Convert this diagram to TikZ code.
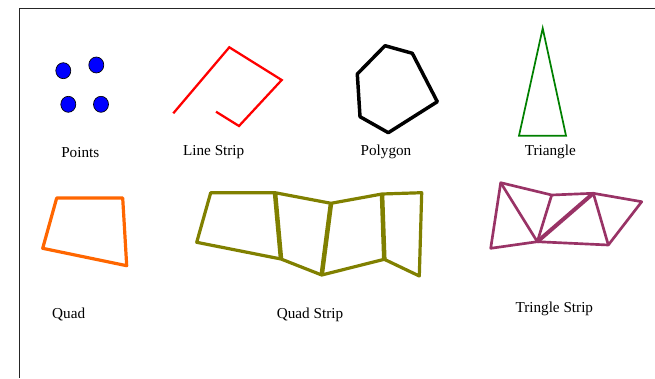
\documentclass[tikz,border=0pt]{standalone}
\usepackage{fontspec}
\setmainfont{Liberation Serif}
\definecolor{ptblue}{RGB}{0,0,255}
\definecolor{lsred}{RGB}{255,0,0}
\definecolor{trigreen}{RGB}{0,128,0}
\definecolor{quadorange}{RGB}{255,102,0}
\definecolor{qsolive}{RGB}{128,128,0}
\definecolor{tspurple}{RGB}{153,51,102}
\begin{document}
\begin{tikzpicture}[x=0.75pt,y=-0.75pt,
  lbl/.style={font=\fontsize{11.4pt}{13pt}\selectfont, inner sep=0pt},
  pt/.style={draw=black, fill=ptblue, line width=0.6pt, ellipse},
  frame/.style={draw=black!85, line width=0.9pt},
  lsline/.style={draw=lsred, line width=1.7pt},
  polyline/.style={draw=black, line width=2.6pt, line join=round},
  triline/.style={draw=trigreen, line width=1.3pt},
  quadline/.style={draw=quadorange, line width=2.4pt, line join=round},
  qsline/.style={draw=qsolive, line width=2.4pt, line join=round},
  qsvert/.style={draw=qsolive, line width=3.4pt},
  tsline/.style={draw=tspurple, line width=2pt, line join=round},
  tsthick/.style={draw=tspurple, line width=3pt}]
\useasboundingbox (0,0) rectangle (655,378);
% frame
\coordinate (f1) at (655,8.5);
\coordinate (f2) at (19.5,8.5);
\coordinate (f3) at (19.5,378);
\draw[frame] (f1) -- (f2) -- (f3);
% Points
\fill[ptblue, draw=black, line width=0.5pt] (63.3,70.7) ellipse [x radius=7.5, y radius=8];
\fill[ptblue, draw=black, line width=0.5pt] (96.3,65) ellipse [x radius=7.5, y radius=8];
\fill[ptblue, draw=black, line width=0.5pt] (68.3,104.3) ellipse [x radius=7.5, y radius=8];
\fill[ptblue, draw=black, line width=0.5pt] (101,104.3) ellipse [x radius=7.5, y radius=8];
\node[lbl] (tpoints) at (80.3,152.3) {Points};
% Line strip
\coordinate (l1) at (173.3,113.3);
\coordinate (l2) at (229.3,47.3);
\coordinate (l3) at (281.7,80);
\coordinate (l4) at (239,126);
\coordinate (l5) at (216,111.7);
\draw[lsline] (l1) -- (l2) -- (l3) -- (l4) -- (l5);
\node[lbl] (tls) at (213.7,152.3) {Line Strip};
% Polygon
\coordinate (p1) at (385,45.7);
\coordinate (p2) at (412.3,53.3);
\coordinate (p3) at (437.3,101.7);
\coordinate (p4) at (388.3,132.7);
\coordinate (p5) at (360,116.7);
\coordinate (p6) at (357.3,74);
\draw[polyline] (p1) -- (p2) -- (p3) -- (p4) -- (p5) -- (p6) -- cycle;
\node[lbl] (tpoly) at (386,152.3) {Polygon};
% Triangle
\coordinate (t1) at (542.7,28.3);
\coordinate (t2) at (566,135.7);
\coordinate (t3) at (519,135.7);
\draw[triline] (t1) -- (t2) -- (t3) -- cycle;
\node[lbl] (ttri) at (550.3,152.3) {Triangle};
% Quad
\coordinate (q1) at (56.7,198);
\coordinate (q2) at (122.7,198);
\coordinate (q3) at (126.7,265.7);
\coordinate (q4) at (42.7,248.3);
\draw[quadline] (q1) -- (q2) -- (q3) -- (q4) -- cycle;
\node[lbl] (tquad) at (68.7,314) {Quad};
% Quad strip
\coordinate (a1) at (210.7,192.7);
\coordinate (a2) at (275,192.7);
\coordinate (a3) at (331,203.3);
\coordinate (a4) at (382,194);
\coordinate (a5) at (421.7,192.7);
\coordinate (b1) at (196.7,242.3);
\coordinate (b2) at (281,259);
\coordinate (b3) at (321.7,275);
\coordinate (b4) at (384.3,259.3);
\coordinate (b5) at (419.3,276);
\draw[qsvert] (a2) -- (b2);
\draw[qsvert] (a3) -- (b3);
\draw[qsvert] (a4) -- (b4);
\draw[qsline] (a1) -- (a2) -- (a3) -- (a4) -- (a5) -- (b5) -- (b4) -- (b3) -- (b2) -- (b1) -- cycle;
\node[lbl] (tqs) at (310,314.5) {Quad Strip};
% Triangle strip
\coordinate (sA) at (500.7,182.7);
\coordinate (sB) at (490.7,248.3);
\coordinate (sC) at (537.3,241.7);
\coordinate (sD) at (551.7,195);
\coordinate (sE) at (593.3,193.3);
\coordinate (sF) at (608.3,245);
\coordinate (sG) at (641.7,201.7);
\draw[tsthick] (sC) -- (sE);
\draw[tsline] (sA) -- (sD) -- (sE) -- (sG) -- (sF) -- (sC) -- (sB) -- cycle;
\draw[tsline] (sA) -- (sC) -- (sD);
\draw[tsline] (sE) -- (sF);
\node[lbl] (tts) at (554.3,309.3) {Tringle Strip};
\end{tikzpicture}
\end{document}
